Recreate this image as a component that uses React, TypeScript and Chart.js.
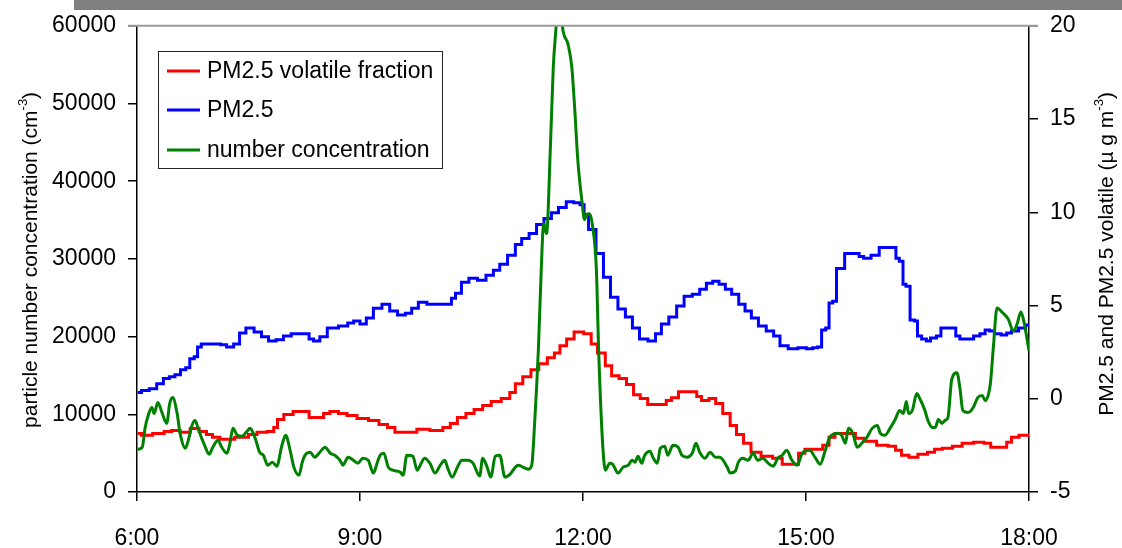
import React, { useEffect, useRef } from 'react';
import { Chart, registerables } from 'chart.js';

Chart.register(...registerables);

// ---------- data ----------
const seriesLabels = ['PM2.5 volatile fraction', 'PM2.5', 'number concentration'];
const seriesColors = ['#ff0000', '#0000ff', '#008000'];

const xTickHours = [6, 9, 12, 15, 18];
const leftTicks = [0, 10000, 20000, 30000, 40000, 50000, 60000];
const rightTicks = [-5, 0, 5, 10, 15, 20];

// PM2.5 (µg m-3), right axis
const pmTimes = [
  6.01, 6.11, 6.22, 6.31, 6.40, 6.47, 6.55, 6.62, 6.69, 6.73, 6.81, 6.82, 6.91, 7.09, 7.16, 7.25, 7.35, 7.41,
  7.52, 7.63, 7.72, 7.82, 7.92, 8.02, 8.13, 8.30, 8.33, 8.42, 8.50, 8.62, 8.80, 8.87, 8.96, 9.04, 9.13, 9.23,
  9.36, 9.44, 9.57, 9.65, 9.74, 9.83, 9.97, 10.21, 10.25, 10.32, 10.41, 10.52, 10.64, 10.75, 10.84, 10.92,
  11.05, 11.13, 11.22, 11.33, 11.42, 11.53, 11.62, 11.72, 11.83, 11.92, 12.00, 12.03, 12.12, 12.23, 12.32,
  12.42, 12.52, 12.62, 12.71, 12.81, 12.94, 13.01, 13.10, 13.21, 13.31, 13.41, 13.53, 13.61, 13.71, 13.78,
  13.88, 13.95, 14.05, 14.14, 14.22, 14.31, 14.41, 14.52, 14.61, 14.69, 14.83, 14.95, 15.06, 15.12, 15.19,
  15.23, 15.30, 15.32, 15.40, 15.42, 15.50, 15.54, 15.70, 15.73, 15.82, 15.93, 16.04, 16.20, 16.22, 16.29,
  16.32, 16.37, 16.43, 16.49, 16.51, 16.60, 16.64, 16.71, 16.80, 16.83, 17.00, 17.03, 17.11, 17.21, 17.30,
  17.38, 17.44, 17.50, 17.57, 17.68, 17.72, 17.81, 17.91, 18.00,
];
const pmValues = [
  0.33, 0.44, 0.54, 0.81, 1.08, 1.18, 1.29, 1.56, 1.66, 2.14, 2.25, 2.78, 2.94, 2.94, 2.89, 2.78, 2.94, 3.53,
  3.80, 3.58, 3.32, 3.10, 3.16, 3.37, 3.48, 3.48, 3.21, 3.10, 3.32, 3.80, 3.90, 4.06, 4.17, 4.01, 4.33, 4.86,
  5.07, 4.70, 4.49, 4.59, 4.86, 5.18, 5.07, 5.07, 5.39, 5.66, 6.25, 6.46, 6.35, 6.62, 6.89, 7.21,
  7.69, 8.27, 8.59, 8.86, 9.34, 9.66, 9.98, 10.25, 10.57, 10.51, 10.41, 9.87, 9.07, 7.79, 6.51,
  5.45, 4.81, 4.38, 3.80, 3.21, 3.10, 3.48, 4.01, 4.38, 4.97, 5.50, 5.61, 5.87, 6.19, 6.30,
  6.14, 5.87, 5.61, 5.07, 4.70, 4.33, 3.90, 3.64, 3.37, 2.84, 2.68, 2.73, 2.68, 2.73, 2.78,
  3.69, 3.80, 5.13, 5.23, 6.99, 6.99, 7.79, 7.79, 7.63, 7.53, 7.69, 8.11, 8.11, 7.53, 7.37,
  6.14, 6.03, 4.22, 4.17, 3.37, 3.21, 3.10, 3.26, 3.37, 3.80, 3.80, 3.37, 3.21, 3.21, 3.37,
  3.48, 3.69, 3.64, 3.48, 3.42, 3.53, 3.64, 3.80, 3.96,
];

// PM2.5 volatile fraction (µg m-3), right axis
const volTimes = [
  6.01, 6.11, 6.31, 6.42, 6.51, 6.65, 6.78, 6.89, 6.98, 7.05, 7.18, 7.45, 7.55, 7.68, 7.82, 7.86, 7.92, 8.03,
  8.17, 8.30, 8.33, 8.49, 8.53, 8.66, 8.76, 8.89, 9.03, 9.20, 9.31, 9.43, 9.51, 9.70, 9.83, 10.05, 10.18,
  10.25, 10.37, 10.48, 10.59, 10.71, 10.82, 10.98, 11.05, 11.13, 11.25, 11.35, 11.46, 11.58, 11.65, 11.73,
  11.83, 11.93, 12.09, 12.13, 12.26, 12.34, 12.43, 12.54, 12.63, 12.73, 12.81, 12.93, 13.10, 13.14, 13.24,
  13.33, 13.51, 13.55, 13.64, 13.75, 13.82, 13.94, 14.02, 14.11, 14.21, 14.31, 14.48, 14.62, 14.74, 14.88,
  14.92, 15.05, 15.19, 15.26, 15.36, 15.42, 15.63, 15.70, 15.86, 16.04, 16.17, 16.24, 16.33, 16.44, 16.57,
  16.70, 16.76, 16.91, 17.03, 17.17, 17.34, 17.45, 17.52, 17.68, 17.72, 17.81, 17.92, 18.00,
];
const volValues = [
  -1.86, -1.96, -1.86, -1.75, -1.70, -1.80, -1.59, -1.75, -1.91, -2.07, -2.17, -2.07, -1.91, -1.80, -1.75, -1.54, -1.11, -0.84,
  -0.68, -0.68, -1.00, -1.00, -0.79, -0.68, -0.79, -0.90, -1.06, -1.16, -1.38, -1.54, -1.80, -1.80, -1.64, -1.70, -1.54,
  -1.32, -1.00, -0.79, -0.58, -0.36, -0.15, 0.01, 0.33, 0.81, 1.18, 1.56, 1.88, 2.20, 2.46, 2.84,
  3.21, 3.58, 3.48, 2.94, 2.46, 1.77, 1.24, 1.08, 0.76, 0.22, 0.01, -0.31, -0.31, -0.10, 0.06,
  0.38, 0.38, 0.12, -0.10, 0.01, -0.26, -0.79, -1.43, -1.91, -2.39, -2.87, -3.08, -3.19, -3.51, -3.51,
  -2.92, -2.71, -2.71, -2.49, -2.07, -1.86, -1.86, -2.12, -2.28, -2.49, -2.55, -2.76, -3.03, -3.13, -2.97,
  -2.87, -2.71, -2.65, -2.55, -2.39, -2.33, -2.39, -2.60, -2.60, -2.33, -2.07, -1.96, -1.96,
];

// particle number concentration (cm-3), left axis
const numTimes = [
  6.01, 6.07, 6.11, 6.15, 6.20, 6.23, 6.28, 6.34, 6.40, 6.44, 6.48, 6.54, 6.58, 6.65, 6.69, 6.74, 6.78, 6.82,
  6.87, 6.91, 6.97, 7.02, 7.09, 7.14, 7.21, 7.25, 7.29, 7.35, 7.41, 7.48, 7.52, 7.59, 7.65, 7.70, 7.76, 7.82,
  7.88, 7.95, 8.00, 8.06, 8.11, 8.18, 8.22, 8.26, 8.33, 8.39, 8.46, 8.53, 8.60, 8.66, 8.73, 8.77, 8.84, 8.91,
  8.97, 9.04, 9.11, 9.18, 9.23, 9.27, 9.32, 9.38, 9.44, 9.54, 9.58, 9.63, 9.71, 9.77, 9.81, 9.87, 9.94, 10.01,
  10.08, 10.14, 10.18, 10.24, 10.31, 10.37, 10.45, 10.52, 10.61, 10.65, 10.71, 10.76, 10.82, 10.88, 10.95,
  11.02, 11.09, 11.13, 11.19, 11.26, 11.31, 11.35, 11.40, 11.44, 11.47, 11.51, 11.56, 11.60, 11.64, 11.68,
  11.72, 11.80, 11.85, 11.89, 11.93, 11.99, 12.02, 12.05, 12.09, 12.13, 12.18, 12.21, 12.26, 12.30, 12.36,
  12.40, 12.47, 12.54, 12.61, 12.66, 12.70, 12.74, 12.79, 12.83, 12.90, 12.94, 13.00, 13.04, 13.10, 13.14,
  13.21, 13.28, 13.33, 13.40, 13.47, 13.52, 13.57, 13.64, 13.71, 13.78, 13.84, 13.94, 13.98, 14.05, 14.09,
  14.15, 14.22, 14.29, 14.35, 14.42, 14.49, 14.56, 14.62, 14.68, 14.74, 14.81, 14.88, 14.95, 15.05, 15.12,
  15.19, 15.26, 15.32, 15.43, 15.48, 15.53, 15.57, 15.63, 15.69, 15.75, 15.82, 15.89, 15.96, 16.00, 16.06,
  16.13, 16.20, 16.26, 16.31, 16.35, 16.38, 16.43, 16.49, 16.53, 16.60, 16.64, 16.70, 16.74, 16.78, 16.83,
  16.87, 16.91, 16.96, 17.03, 17.07, 17.11, 17.18, 17.25, 17.31, 17.37, 17.41, 17.48, 17.52, 17.57, 17.65,
  17.72, 17.79, 17.84, 17.89, 17.93, 18.00,
];
const numValues = [
  5500, 5760, 8300, 9850, 10870, 10100, 11510, 10100, 8830, 11390, 12150, 10100, 7550, 5630, 6650, 8570, 9210, 8300,
  6910, 6010, 4860, 5760, 6650, 5760, 4990, 6270, 8190, 7290, 7160, 7800, 8190, 6910, 5120, 4730, 3450, 3840,
  3330, 6010, 7290, 5370, 3200, 2170, 3710, 4730, 5120, 4480, 5120, 5760, 4990, 4730, 4090, 3450, 4480, 4090,
  3710, 4350, 4090, 2430, 3710, 4730, 4990, 3200, 2810, 2560, 2170, 4730, 4610, 2810, 3450, 4350, 3710, 2430,
  3450, 4090, 3070, 1920, 3200, 4090, 4090, 3710, 2050, 4350, 3200, 1920, 4610, 4730, 1920,
  2300, 3200, 3450, 3200, 2940, 3450, 8960, 18420, 29040, 34540, 33260, 44010, 54630, 60130, 66000,
  60130, 57570, 54630, 49120, 42730, 37100, 35050, 35690, 35820, 34160, 28660, 18420, 6910, 2810, 3710,
  3580, 2430, 3200, 3450, 4090, 3840, 4610, 3710, 4730, 5250, 4480, 3710, 5630, 5880, 4730,
  6010, 5760, 4730, 4480, 4990, 6270, 5120, 4350, 5120, 4480, 4480, 3200, 2430, 2690, 3840,
  4350, 4090, 4990, 4090, 4350, 3710, 3330, 4350, 4730, 5370, 4090, 3450, 4990, 5370, 4480,
  3580, 5370, 7040, 7550, 7290, 6270, 8190, 7550, 5760, 6270, 7040, 8190, 8570, 7550, 7290,
  8190, 9340, 10490, 10100, 11640, 10100, 10490, 12670, 12030, 10490, 9210, 8300, 8300, 9340, 8830,
  9210, 9590, 14460, 15350, 13430, 10490, 10230, 10870, 12150, 12410, 11770, 13940, 18550, 23670, 23030,
  22260, 20720, 21620, 23160, 22000, 18170,
];

const leftTitle = ['particle number concentration (cm', '-3', ')'];
const rightTitle = ['PM2.5 and PM2.5 volatile (\u00b5 g m', '-3', ')'];

const FONT = '"Liberation Sans", Arial, Helvetica, sans-serif';

function pts(xs: number[], ys: number[]) {
  return xs.map((x, i) => ({ x, y: ys[i] }));
}

function drawRotatedTitle(ctx: CanvasRenderingContext2D, cx: number, cy: number, parts: string[], size: number) {
  const supSize = Math.round(size * 0.62);
  ctx.save();
  ctx.translate(cx, cy);
  ctx.rotate(-Math.PI / 2);
  ctx.fillStyle = '#000';
  ctx.textBaseline = 'middle';
  ctx.textAlign = 'left';
  const fonts = [`${size}px ${FONT}`, `${supSize}px ${FONT}`, `${size}px ${FONT}`];
  const widths = parts.map((p, i) => {
    ctx.font = fonts[i];
    return ctx.measureText(p).width;
  });
  const total = widths.reduce((a, b) => a + b, 0);
  let x = -total / 2;
  parts.forEach((p, i) => {
    ctx.font = fonts[i];
    ctx.fillText(p, x, i === 1 ? -size * 0.38 : 0);
    x += widths[i];
  });
  ctx.restore();
}

const decorPlugin = {
  id: 'decor',
  beforeDraw(chart: any) {
    const ctx = chart.ctx as CanvasRenderingContext2D;
    ctx.save();
    ctx.fillStyle = '#ffffff';
    ctx.fillRect(0, 0, chart.width, chart.height);
    ctx.fillStyle = '#808080';
    ctx.fillRect(74, 0, chart.width - 74, 10);
    ctx.restore();
  },
  afterDraw(chart: any) {
    const ctx = chart.ctx as CanvasRenderingContext2D;
    const a = chart.chartArea;
    ctx.save();
    // top frame line
    ctx.strokeStyle = '#9a9a9a';
    ctx.lineWidth = 2;
    ctx.beginPath();
    ctx.moveTo(a.left - 9, a.top);
    ctx.lineTo(a.right + 9, a.top);
    ctx.stroke();

    // legend
    const lx = 158.5, ly = 51.5, lw = 284, lh = 117;
    ctx.fillStyle = '#fff';
    ctx.fillRect(lx, ly, lw, lh);
    ctx.strokeStyle = '#222';
    ctx.lineWidth = 1;
    ctx.strokeRect(lx, ly, lw, lh);
    const rowsY = [71, 110, 150];
    ctx.font = `23px ${FONT}`;
    ctx.textBaseline = 'middle';
    ctx.textAlign = 'left';
    seriesLabels.forEach((label, i) => {
      ctx.strokeStyle = seriesColors[i];
      ctx.lineWidth = 3;
      ctx.beginPath();
      ctx.moveTo(167, rowsY[i]);
      ctx.lineTo(200, rowsY[i]);
      ctx.stroke();
      ctx.fillStyle = '#000';
      ctx.fillText(label, 207, rowsY[i] + 1);
    });
    ctx.restore();

    drawRotatedTitle(ctx, 31, (a.top + a.bottom) / 2 + 1, leftTitle, 21);
    drawRotatedTitle(ctx, 1107, (a.top + a.bottom) / 2 - 5, rightTitle, 21);
  },
};

export default function App() {
  const ref = useRef<HTMLCanvasElement | null>(null);

  useEffect(() => {
    if (!ref.current) return;
    const tickFont = { family: FONT, size: 23 };
    const chart = new Chart(ref.current, {
      type: 'line',
      data: {
        datasets: [
          {
            label: seriesLabels[0],
            data: pts(volTimes, volValues),
            yAxisID: 'y1',
            borderColor: seriesColors[0],
            borderWidth: 3,
            pointRadius: 0,
            stepped: 'middle',
            fill: false,
            order: 3,
            clip: 0,
          },
          {
            label: seriesLabels[1],
            data: pts(pmTimes, pmValues),
            yAxisID: 'y1',
            borderColor: seriesColors[1],
            borderWidth: 3,
            pointRadius: 0,
            stepped: 'middle',
            fill: false,
            order: 2,
            clip: 0,
          },
          {
            label: seriesLabels[2],
            data: pts(numTimes, numValues),
            yAxisID: 'y',
            borderColor: seriesColors[2],
            borderWidth: 3,
            pointRadius: 0,
            cubicInterpolationMode: 'monotone',
            tension: 0.4,
            fill: false,
            order: 1,
            clip: 0,
          },
        ] as any,
      },
      options: {
        animation: false,
        responsive: false,
        events: [],
        layout: { padding: { top: 23, left: 0, right: 0, bottom: 0 } },
        plugins: {
          legend: { display: false },
          tooltip: { enabled: false },
          title: { display: false },
        },
        scales: {
          x: {
            type: 'linear',
            position: 'bottom',
            min: xTickHours[0],
            max: xTickHours[xTickHours.length - 1],
            afterBuildTicks: (scale: any) => {
              scale.ticks = xTickHours.map((v) => ({ value: v }));
            },
            afterFit: (scale: any) => {
              scale.height = 56;
            },
            ticks: {
              font: tickFont,
              color: '#000',
              padding: 24,
              maxRotation: 0,
              autoSkip: false,
              callback: (v: any) => `${v}:00`,
            },
            grid: {
              display: true,
              drawOnChartArea: false,
              drawTicks: true,
              tickLength: 9,
              color: '#000',
              lineWidth: 1.5,
            },
            border: { display: true, color: '#000', width: 1.5 },
          },
          y: {
            type: 'linear',
            position: 'left',
            min: leftTicks[0],
            max: leftTicks[leftTicks.length - 1],
            afterBuildTicks: (scale: any) => {
              scale.ticks = leftTicks.map((v) => ({ value: v }));
            },
            afterFit: (scale: any) => {
              scale.width = 137;
            },
            ticks: {
              font: tickFont,
              color: '#000',
              padding: 12,
              autoSkip: false,
              callback: (v: any) => String(v),
            },
            grid: {
              display: true,
              drawOnChartArea: false,
              drawTicks: true,
              tickLength: 9,
              color: '#000',
              lineWidth: 1.5,
            },
            border: { display: true, color: '#000', width: 1.5 },
          },
          y1: {
            type: 'linear',
            position: 'right',
            min: rightTicks[0],
            max: rightTicks[rightTicks.length - 1],
            afterBuildTicks: (scale: any) => {
              scale.ticks = rightTicks.map((v) => ({ value: v }));
            },
            afterFit: (scale: any) => {
              scale.width = 93;
            },
            ticks: {
              font: tickFont,
              color: '#000',
              padding: 12,
              autoSkip: false,
              callback: (v: any) => String(v),
            },
            grid: {
              display: true,
              drawOnChartArea: false,
              drawTicks: true,
              tickLength: 9,
              color: '#000',
              lineWidth: 1.5,
            },
            border: { display: true, color: '#000', width: 1.5 },
          },
        },
      } as any,
      plugins: [decorPlugin],
    });
    return () => chart.destroy();
  }, []);

  return (
    <div style={{ position: 'absolute', left: 0, top: 0, width: 1122, height: 548, background: '#fff' }}>
      <canvas ref={ref} width={1122} height={548} style={{ display: 'block' }} />
    </div>
  );
}
